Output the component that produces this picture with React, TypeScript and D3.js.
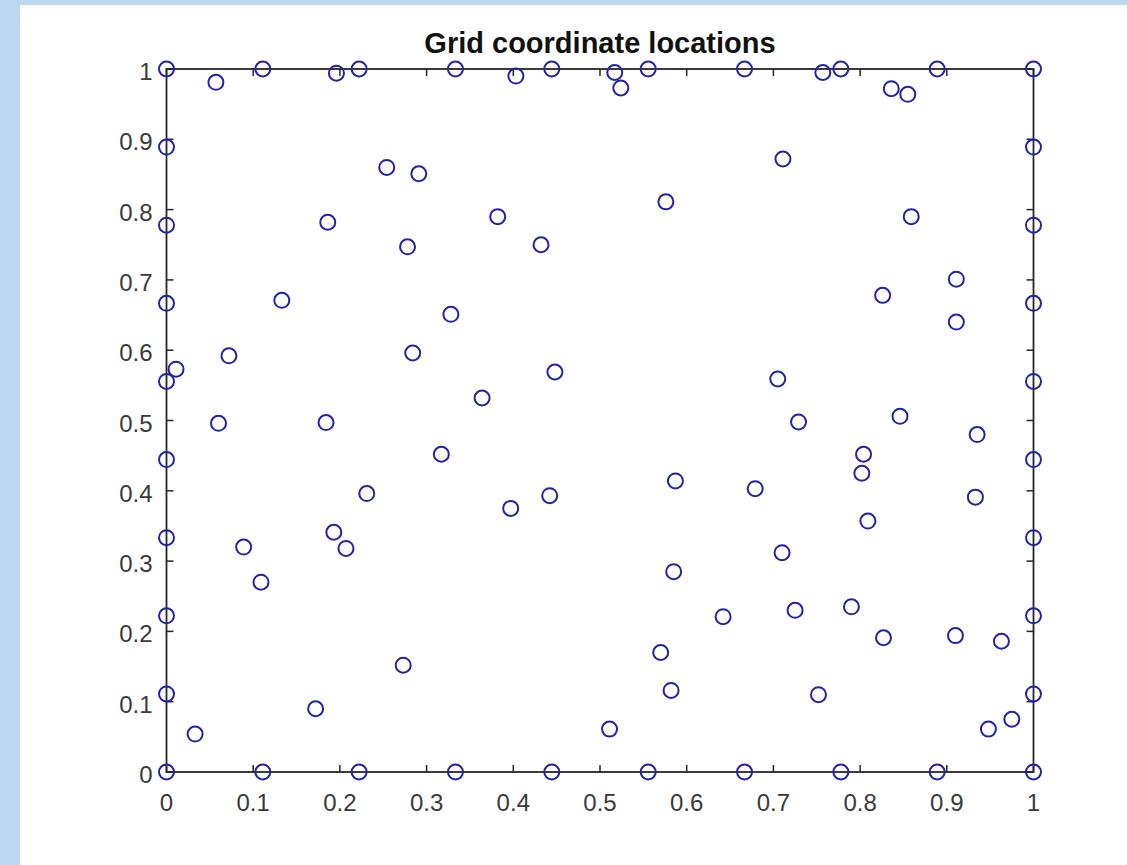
import React from 'react';
import * as d3 from 'd3';

// boundary grid positions (10 per side)
const edgeVals = [0, 0.1111, 0.2222, 0.3333, 0.4444, 0.5556, 0.6667, 0.7778, 0.8889, 1];

// interior / scattered points
const scatterX = [
  0.057, 0.196, 0.403, 0.254, 0.291, 0.186, 0.382, 0.278, 0.432, 0.133, 0.328, 0.072, 0.011, 0.284, 0.448, 0.364,
  0.517, 0.524, 0.757, 0.836, 0.855, 0.711, 0.576, 0.859, 0.911, 0.826, 0.911, 0.705,
  0.060, 0.184, 0.317, 0.231, 0.442, 0.397, 0.089, 0.193, 0.207, 0.109, 0.273, 0.172, 0.033,
  0.729, 0.846, 0.935, 0.804, 0.802, 0.587, 0.679, 0.933, 0.809, 0.710, 0.585, 0.642, 0.725, 0.790, 0.827, 0.910,
  0.963, 0.570, 0.582, 0.752, 0.511, 0.948, 0.975,
];
const scatterY = [
  0.981, 0.994, 0.990, 0.860, 0.851, 0.782, 0.790, 0.747, 0.750, 0.671, 0.651, 0.592, 0.573, 0.596, 0.569, 0.532,
  0.995, 0.973, 0.995, 0.972, 0.964, 0.872, 0.811, 0.790, 0.701, 0.678, 0.640, 0.559,
  0.496, 0.497, 0.452, 0.396, 0.393, 0.375, 0.320, 0.341, 0.318, 0.270, 0.152, 0.090, 0.054,
  0.498, 0.506, 0.480, 0.452, 0.425, 0.414, 0.403, 0.391, 0.357, 0.312, 0.285, 0.221, 0.230, 0.235, 0.191, 0.194,
  0.186, 0.170, 0.116, 0.110, 0.061, 0.061, 0.075,
];

const tickVals = [0, 0.1, 0.2, 0.3, 0.4, 0.5, 0.6, 0.7, 0.8, 0.9, 1];
const tickLabels = ['0', '0.1', '0.2', '0.3', '0.4', '0.5', '0.6', '0.7', '0.8', '0.9', '1'];

const W = 1127;
const H = 865;
const plot = { left: 166.5, right: 1033.5, top: 69, bottom: 772 };

const App: React.FC = () => {
  const x = d3.scaleLinear().domain([0, 1]).range([plot.left, plot.right]);
  const y = d3.scaleLinear().domain([0, 1]).range([plot.bottom, plot.top]);

  // build the point list: left, right, bottom, top edges, then scattered points
  const pts: [number, number][] = [];
  edgeVals.forEach(v => pts.push([0, v]));
  edgeVals.forEach(v => pts.push([1, v]));
  edgeVals.slice(1, -1).forEach(v => pts.push([v, 0]));
  edgeVals.slice(1, -1).forEach(v => pts.push([v, 1]));
  scatterX.forEach((v, i) => pts.push([v, scatterY[i]]));

  const axisColor = '#262626';
  const tickLen = 7;
  const font = '"Liberation Sans", Arial, sans-serif';

  return (
    <svg width={W} height={H} style={{ position: 'absolute', left: 0, top: 0, display: 'block' }}>
      <rect x={0} y={0} width={W} height={H} fill="#bdd7ee" />
      <rect x={20} y={5} width={W - 20} height={H - 5} fill="#ffffff" />

      {/* ticks on all four sides, pointing inward */}
      <g stroke={axisColor} strokeWidth={1.5}>
        {tickVals.map((t, i) => (
          <g key={i}>
            <line x1={x(t)} x2={x(t)} y1={plot.bottom} y2={plot.bottom - tickLen} />
            <line x1={x(t)} x2={x(t)} y1={plot.top} y2={plot.top + tickLen} />
            <line x1={plot.left} x2={plot.left + tickLen} y1={y(t)} y2={y(t)} />
            <line x1={plot.right} x2={plot.right - tickLen} y1={y(t)} y2={y(t)} />
          </g>
        ))}
      </g>
      <rect
        x={plot.left}
        y={plot.top}
        width={plot.right - plot.left}
        height={plot.bottom - plot.top}
        fill="none"
        stroke={axisColor}
        strokeWidth={1.8}
      />

      {/* tick labels */}
      <g fill="#3a3a3a" fontFamily={font} fontSize={24}>
        {tickVals.map((t, i) => (
          <text key={'x' + i} x={x(t)} y={plot.bottom + 39} textAnchor="middle">
            {tickLabels[i]}
          </text>
        ))}
        {tickVals.map((t, i) => (
          <text key={'y' + i} x={plot.left - 14} y={y(t) + 11} textAnchor="end">
            {tickLabels[i]}
          </text>
        ))}
      </g>

      <text
        x={(plot.left + plot.right) / 2}
        y={53}
        textAnchor="middle"
        fontFamily={font}
        fontWeight="bold"
        fontSize={29}
        fill="#111111"
      >
        Grid coordinate locations
      </text>

      <g fill="none" stroke="#2323a6" strokeWidth={2}>
        {pts.map((p, i) => (
          <circle key={i} cx={x(p[0])} cy={y(p[1])} r={7.5} />
        ))}
      </g>
    </svg>
  );
};

export default App;
